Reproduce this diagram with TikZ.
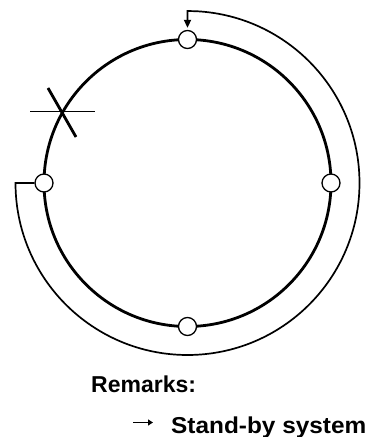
\documentclass[tikz,border=0pt]{standalone}
\usepackage{fontspec}
\setmainfont{Liberation Sans}
\usetikzlibrary{arrows.meta}
\begin{document}
\begin{tikzpicture}[x=1pt,y=1pt,
  ring/.style={line width=2.8pt},
  valve/.style={circle,draw,line width=1.3pt,fill=white,minimum size=18pt,inner sep=0pt},
  standby/.style={line width=1.7pt},
  lbl/.style={font=\fontsize{23}{26}\selectfont\bfseries,anchor=base west,inner sep=0pt}]
\useasboundingbox (0,0) rectangle (368,437);
\coordinate (c) at (187.5,254);
\draw[ring] (c) circle[radius=143.5];
\node[valve] (top) at (187.5,397.5) {};
\node[valve] (left) at (44,254) {};
\node[valve] (right) at (331,254) {};
\node[valve] (bottom) at (187.5,110.5) {};
% stand-by line
\coordinate (oE) at (15.5,254);
\coordinate (hook) at (187.5,426);
\draw[standby,-{Triangle[length=8pt,width=7pt]}] (left.west) -- (oE)
  arc[start angle=180,end angle=447,radius=172] -- (hook) -- ([yshift=2pt]top.north);
% breaking mark
\coordinate (x1) at (48,349);
\coordinate (x2) at (76,300);
\coordinate (h1) at (30,325.5);
\coordinate (h2) at (95,325.5);
\draw[line width=2.8pt] (x1) -- (x2);
\draw[line width=1.3pt] (h1) -- (h2);
% legend
\node[lbl] (rem) at (91,44) {Remarks:};
\node[lbl] (sb) at (171,3.5) {\scalebox{1.06}[1]{Stand-by system}};
\coordinate (a1) at (133,14.5);
\coordinate (a2) at (153,14.5);
\draw[line width=1.2pt,-{Triangle[length=5pt,width=6pt]}] (a1) -- (a2);
\end{tikzpicture}
\end{document}
